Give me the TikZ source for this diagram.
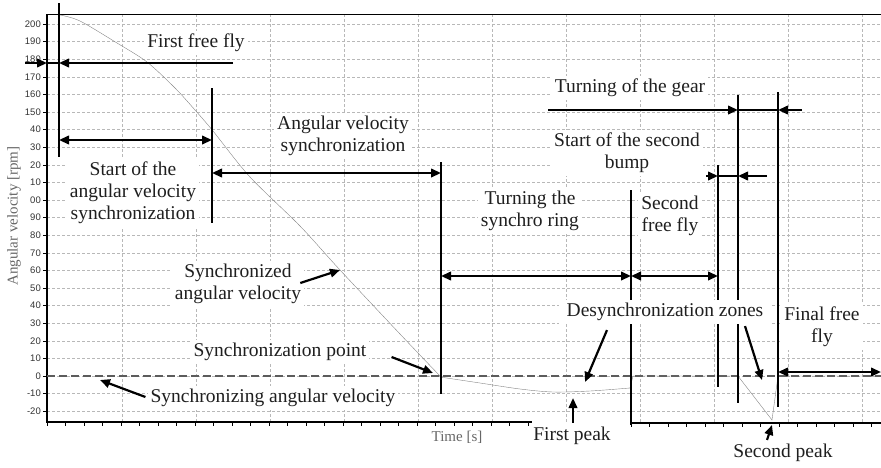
\documentclass[tikz,border=0pt]{standalone}
\usepackage{fontspec}
\setmainfont{Liberation Serif}
\newfontfamily\ticksans{Liberation Sans}
\usepackage{tikz}
\usetikzlibrary{arrows.meta}
\tikzset{>={Triangle[width=8.5pt,length=10pt]}}
\definecolor{gridgray}{HTML}{B8B8B8}
\definecolor{syncgray}{HTML}{5C5C5C}
\definecolor{curvegray}{HTML}{858585}
\newcommand{\lblfont}{\fontsize{19.5}{22}\selectfont}
\newcommand{\tickfont}{\ticksans\fontsize{9.5}{10}\selectfont}
\tikzset{
  lbl/.style={fill=white, inner sep=3pt, align=center, font=\lblfont, text=black!88},
  bar/.style={line width=2.6pt},
  span/.style={line width=2.2pt},
  ptr/.style={line width=2.2pt,->},
}

\begin{document}
\begin{tikzpicture}[x=1pt,y=-1pt]
\useasboundingbox (0,0) rectangle (881,467);
% grid
\foreach \k in {1,...,11}
  \draw[gridgray, densely dashed, thin] (48.5+74*\k,14) -- (48.5+74*\k,422);
\foreach \v in {-20,-10,...,200}
  \draw[gridgray, densely dashed, thin] (47,376-1.76*\v) -- (881,376-1.76*\v);
% axes
\draw[thin] (47,14) -- (881,14);
\draw[line width=1.8pt] (47,14) -- (47,422) -- (532,422);
\draw[line width=1.8pt] (631,423) -- (881,423);
\foreach \k in {0,...,26} \draw (47+18.5*\k,422) -- ++(0,4);
\foreach \k in {0,...,13} \draw (631+18.5*\k,423) -- ++(0,4);
\foreach \v/\t in {200/200,190/190,180/180,170/170,160/160,150/150,140/40,130/30,120/20,110/10,100/00,
  90/90,80/80,70/70,60/60,50/50,40/40,30/30,20/20,10/10,0/0,-10/-10,-20/-20}{
  \draw (43,376-1.76*\v) -- (47,376-1.76*\v);
  \node[anchor=east, font=\tickfont, text=black!80, inner sep=1pt] (tick\v) at (42,376-1.76*\v) {\t};
}
\node[rotate=90, font=\fontsize{15}{16}\selectfont, text=black!60] (ytitle) at (14,216) {Angular velocity [rpm]};
\node[font=\fontsize{15}{16}\selectfont, text=black!60] (xtitle) at (457,437) {Time [s]};

% measured curve and synchronizing velocity
\draw[syncgray, line width=2.2pt, dash pattern=on 8pt off 4pt] (47,376) -- (881,376);
\draw[curvegray, thin] plot[smooth] coordinates {(60,15) (80,21) (117,43) (147,62) (175,88)
  (195,110) (213,131) (250,177) (300,226) (340,270) (400,334) (440,376)};
\draw[curvegray, thin] plot[smooth] coordinates {(440,377) (480,383) (520,389) (553,392) (590,391) (630,388)}
  -- (633,376) -- (738,376) -- (772,420) -- (778,376) -- (881,376);

% phase bars
\draw[bar] (59,3) -- (59,157);
\draw[bar] (212,88) -- (212,223);
\draw[bar] (441,162) -- (441,394);
\draw[bar] (631,190) -- (631,425);
\draw[bar] (718,165) -- (718,387);
\draw[bar] (738,95) -- (738,403);
\draw[bar] (778,92) -- (778,407);

% interval ends
\coordinate (ffa) at (25,63);   \coordinate (ffax) at (47,63);
\coordinate (ffb) at (233,63);  \coordinate (ffbar) at (59,63);
\coordinate (s1a) at (59,140);  \coordinate (s1b) at (212,140);
\coordinate (s2a) at (212,173); \coordinate (s2b) at (441,173);
\coordinate (s3a) at (441,276); \coordinate (s3b) at (631,276);
\coordinate (s4b) at (718,276);
\coordinate (gra) at (548,110); \coordinate (grb) at (738,110);
\coordinate (grc) at (778,110); \coordinate (grd) at (802,110);
\coordinate (sba) at (706,176); \coordinate (sbb) at (718,176);
\coordinate (sbc) at (738,176); \coordinate (sbd) at (767,176);
\coordinate (fna) at (778,372); \coordinate (fnb) at (881,372);

\draw[span,->] (ffa) -- (ffax);
\draw[span] (ffax) -- (ffbar);
\draw[span,->] (ffb) -- (ffbar);
\draw[span,<->] (s1a) -- (s1b);
\draw[span,<->] (s2a) -- (s2b);
\draw[span,<->] (s3a) -- (s3b);
\draw[span,<->] (s3b) -- (s4b);
\draw[span,->] (gra) -- (grb);
\draw[span] (grb) -- (grc);
\draw[span,->] (grd) -- (grc);
\draw[span,->] (sba) -- (sbb);
\draw[span] (sbb) -- (sbc);
\draw[span,->] (sbd) -- (sbc);
\draw[span,<->] (fna) -- (fnb);

% pointed spots
\coordinate (onsync) at (340,270);
\coordinate (syncpt) at (433,373);
\coordinate (syncvel) at (100,380);
\coordinate (desa) at (585,382);
\coordinate (desb) at (762,380);
\coordinate (peaka) at (573,398);
\coordinate (peakb) at (772,425);

% labels
\node[lbl] (freefly) at (196,43) {First free fly};
\node[lbl] (startsync) at (133,193) {Start of the\\angular velocity\\synchronization};
\node[lbl] (angsync) at (343,136) {Angular velocity\\synchronization};
\node[lbl] (ring) at (530,211) {Turning the\\synchro ring};
\node[lbl] (secfree) at (670,216) {Second\\free fly};
\node[lbl] (bump) at (627,153) {Start of the second\\bump};
\node[lbl] (gear) at (630,88) {Turning of the gear};
\node[lbl] (finfree) at (822,327) {Final free\\fly};
\node[lbl] (synced) at (238,284) {Synchronized\\angular velocity};
\node[lbl] (syncpoint) at (280,352) {Synchronization point};
\node[lbl] (syncing) at (273,398) {Synchronizing angular velocity};
\node[lbl, inner xsep=8pt] (desync) at (665,312) {Desynchronization zones};
\node[lbl] (firstpeak) at (572,436) {First peak};
\node[lbl] (secpeak) at (783,453) {Second peak};

\draw[ptr] (synced.east) ++(-4,-1) -- (onsync);
\draw[ptr] (syncpoint.east) ++(22,5) -- (syncpt);
\draw[ptr] (syncing.west) ++(-2,-1) -- (syncvel);
\draw[ptr] (desync.south) ++(-58,6) -- (desa);
\draw[ptr] (desync.south) ++(80,2) -- (desb);
\draw[ptr] (firstpeak.north) ++(1,-1) -- (peaka);
\draw[ptr] (secpeak.north) ++(-16,-1) -- (peakb);
\end{tikzpicture}
\end{document}
